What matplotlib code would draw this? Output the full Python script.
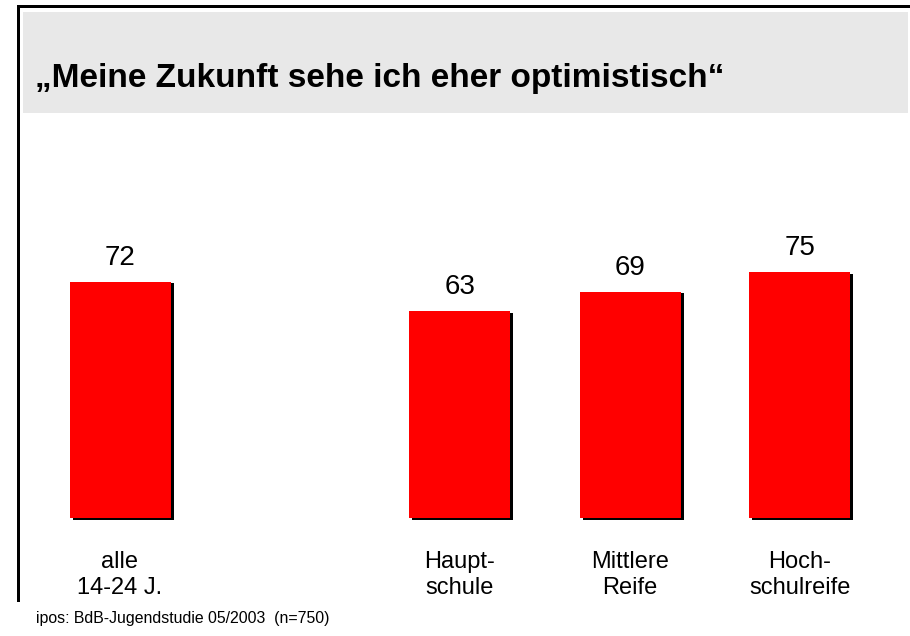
import matplotlib
matplotlib.use('Agg')
import matplotlib.pyplot as plt
from matplotlib.patches import Rectangle

plt.rcParams['font.family'] = ['Liberation Sans', 'DejaVu Sans']

# data
categories = ['alle\n14-24 J.', 'Haupt-\nschule', 'Mittlere\nReife', 'Hoch-\nschulreife']
positions = [0, 2, 3, 4]
values = [72, 63, 69, 75]
title = '\u201eMeine Zukunft sehe ich eher optimistisch\u201c'
source = 'ipos: BdB-Jugendstudie 05/2003  (n=750)'

W, H = 910, 636
fig = plt.figure(figsize=(W / 100, H / 100), dpi=100)

def fx(px):
    return px / W

def fy(py):
    return 1 - py / H

# frame + grey header band
fig.patches.append(Rectangle((fx(23), fy(113)), fx(908) - fx(23), fy(12) - fy(113),
                             transform=fig.transFigure, facecolor='#e8e8e8', edgecolor='none'))
fig.patches.append(Rectangle((fx(17), fy(602)), fx(3), fy(5) - fy(602),
                             transform=fig.transFigure, facecolor='black', edgecolor='none'))
fig.patches.append(Rectangle((fx(17), fy(8)), 1 - fx(17), fy(5) - fy(8),
                             transform=fig.transFigure, facecolor='black', edgecolor='none'))

fig.text(fx(35), fy(78), title, fontsize=24, fontweight='bold', ha='left', va='center')
fig.text(fx(36), fy(618), source, fontsize=11.4, ha='left', va='center')

# axes spanning the whole figure, mapped so bar slots are 170 px apart
ax = fig.add_axes([0, 0, 1, 1])
ax.set_axis_off()
ax.patch.set_alpha(0)
px_x = 170.0
px_y = 3.28
ax.set_xlim(-120 / px_x, (W - 120) / px_x)
ax.set_ylim(-(H - 518) / px_y, 518 / px_y)

width = 101 / px_x
dx = 3 / px_x
dy = 1.5 / px_y
ax.bar([p + dx for p in positions], values, width=width, bottom=-dy,
       color='black', zorder=1)
ax.bar(positions, values, width=width, color='#ff0000', zorder=2)

for p, v, c in zip(positions, values, categories):
    ax.text(p, v + 24 / px_y, str(v), ha='center', va='center', fontsize=20)
    ax.text(p, -57 / px_y, c, ha='center', va='center', fontsize=17,
            linespacing=1.25)

fig.savefig('out.png', dpi=100)
